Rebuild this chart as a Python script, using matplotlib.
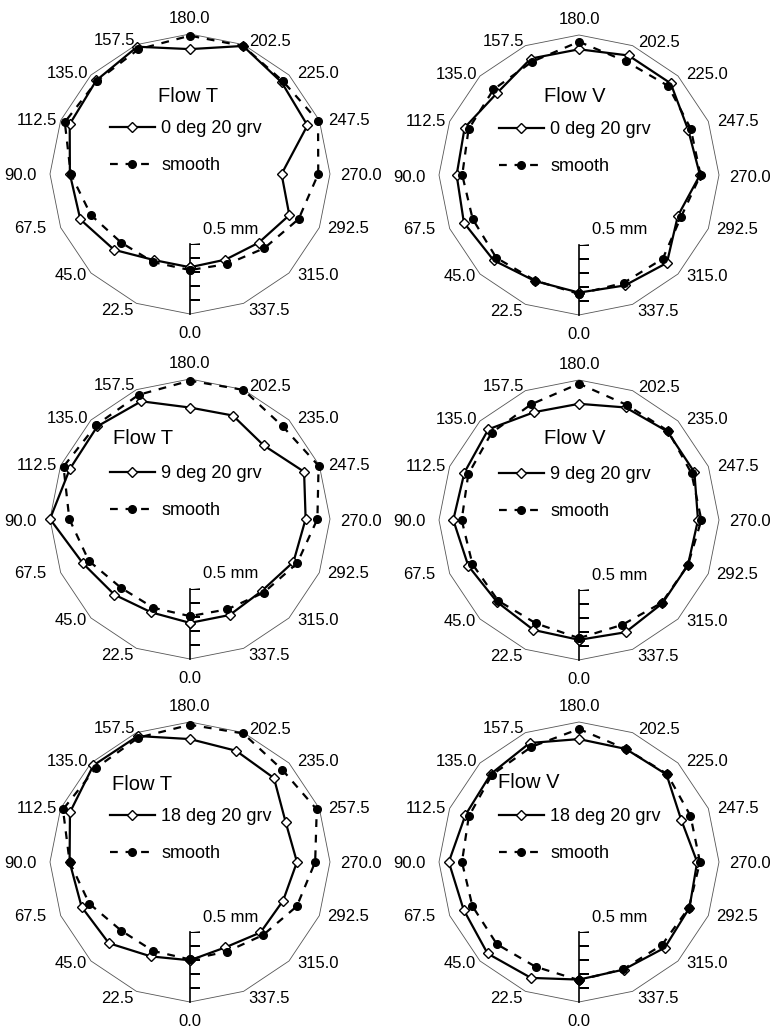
import matplotlib
matplotlib.use("Agg")
import matplotlib.pyplot as plt
import numpy as np

plt.rcParams['font.family'] = ['Liberation Sans', 'DejaVu Sans']

# angle of measurement (deg), 0 at the bottom, clockwise
angles = [0, 22.5, 45, 67.5, 90, 112.5, 135, 157.5, 180, 202.5, 225, 247.5, 270, 292.5, 315, 337.5]

labels_a = ['0.0', '22.5', '45.0', '67.5', '90.0', '112.5', '135.0', '157.5', '180.0',
            '202.5', '225.0', '247.5', '270.0', '292.5', '315.0', '337.5']
labels_b = ['0.0', '22.5', '45.0', '67.5', '90.0', '112.5', '135.0', '157.5', '180.0',
            '202.5', '235.0', '247.5', '270.0', '292.5', '315.0', '337.5']
labels_c = ['0.0', '22.5', '45.0', '67.5', '90.0', '112.5', '135.0', '157.5', '180.0',
            '202.5', '235.0', '257.5', '270.0', '292.5', '315.0', '337.5']

# radial deviation (mm) read on the 0.5 mm scale
t0_grv = [0.166, 0.166, 0.266, 0.348, 0.358, 0.430, 0.446, 0.484, 0.392, 0.490, 0.426, 0.408, 0.154, 0.268, 0.194, 0.162]
t0_smooth = [0.186, 0.182, 0.194, 0.266, 0.352, 0.468, 0.440, 0.464, 0.488, 0.490, 0.438, 0.490, 0.416, 0.340, 0.250, 0.196]
v0_grv = [0.340, 0.320, 0.362, 0.390, 0.374, 0.384, 0.328, 0.400, 0.398, 0.424, 0.426, 0.344, 0.364, 0.264, 0.388, 0.354]
v0_smooth = [0.350, 0.316, 0.336, 0.322, 0.334, 0.354, 0.364, 0.376, 0.452, 0.378, 0.400, 0.364, 0.368, 0.288, 0.346, 0.334]
t9_grv = [0.242, 0.222, 0.264, 0.328, 0.500, 0.430, 0.436, 0.410, 0.296, 0.300, 0.244, 0.382, 0.326, 0.300, 0.226, 0.242]
t9_smooth = [0.194, 0.186, 0.196, 0.282, 0.362, 0.478, 0.448, 0.460, 0.488, 0.498, 0.436, 0.494, 0.410, 0.328, 0.244, 0.198]
v9_grv = [0.356, 0.350, 0.328, 0.356, 0.398, 0.386, 0.416, 0.334, 0.330, 0.370, 0.394, 0.392, 0.350, 0.342, 0.342, 0.368]
v9_smooth = [0.344, 0.300, 0.316, 0.324, 0.338, 0.356, 0.382, 0.394, 0.474, 0.390, 0.400, 0.370, 0.374, 0.342, 0.336, 0.310]
t18_grv = [0.202, 0.230, 0.320, 0.338, 0.360, 0.428, 0.476, 0.474, 0.378, 0.360, 0.348, 0.240, 0.264, 0.220, 0.212, 0.160]
t18_smooth = [0.196, 0.188, 0.194, 0.278, 0.360, 0.482, 0.450, 0.462, 0.480, 0.494, 0.432, 0.480, 0.394, 0.326, 0.238, 0.192]
v18_grv = [0.340, 0.396, 0.424, 0.392, 0.430, 0.378, 0.390, 0.420, 0.378, 0.374, 0.384, 0.290, 0.344, 0.354, 0.366, 0.332]
v18_smooth = [0.344, 0.310, 0.330, 0.324, 0.336, 0.352, 0.380, 0.390, 0.450, 0.374, 0.390, 0.362, 0.364, 0.350, 0.338, 0.328]

W, H = 772, 1028
R = 140

# label offsets from each outer vertex, pixels
lab_off = [(0, -12), (-3, -7), (-4, -3), (-14, -1), (-13, -2), (-4, 0), (-3, 2), (-1, 4),
           (0, 8), (6, 3), (8, 2), (9, 0), (10, -2), (8, -1), (8, -3), (5, -7)]
lab_ha = ['center'] + ['right'] * 7 + ['center'] + ['left'] * 7
lab_va = ['top'] + ['center'] * 7 + ['bottom'] + ['center'] * 7

fig = plt.figure(figsize=(W / 100, H / 100), dpi=100)


def draw_panel(cx, cy, flow, title_off, grv, smooth, grv_name, ticklabels):
    ax = fig.add_axes([(cx - R) / W, 1 - (cy + R) / H, 2 * R / W, 2 * R / H], projection='polar')
    ax.set_theta_zero_location('S')
    ax.set_theta_direction(-1)
    ax.set_ylim(0, 0.5)
    ax.set_rorigin(-0.5)
    ax.set_axis_off()

    th = np.deg2rad(angles + [angles[0]])
    # outer 16-gon frame
    ax.plot(th, [0.5] * len(th), color='#555555', lw=0.6, clip_on=False)

    # 0.5 mm scale along 0 deg
    ax.plot([0, 0], [0, 0.5], color='black', lw=1.2, clip_on=False)
    ax.plot([0] * 5, [0, 0.1, 0.2, 0.3, 0.4], ls='none', marker=1, ms=7.2, mew=1.2, color='black')
    ax.annotate('0.5 mm', xy=(0, 0), xytext=(13, 15), textcoords='offset pixels',
                ha='left', va='center', fontsize=12)

    ax.plot(th, grv + [grv[0]], color='black', lw=1.6, marker='D', ms=4.8,
            mfc='white', mec='black', mew=1.0, label=grv_name, clip_on=False)
    ax.plot(th, smooth + [smooth[0]], color='black', lw=1.6, ls=(0, (3.5, 3.5)),
            marker='o', ms=5.5, label='smooth', clip_on=False)

    for i, a in enumerate(angles):
        ax.annotate(ticklabels[i], xy=(np.deg2rad(a), 0.5), xytext=lab_off[i],
                    textcoords='offset pixels', ha=lab_ha[i], va=lab_va[i],
                    fontsize=12, annotation_clip=False)

    ax.annotate(flow, xy=(0.5, 0.5), xycoords='axes fraction', xytext=title_off,
                textcoords='offset pixels', ha='center', va='center', fontsize=14.5)
    ax.legend(loc='upper left', bbox_to_anchor=(0.214, 0.693), frameon=False,
              fontsize=13, handlelength=2.5, handletextpad=0.35, labelspacing=1.1,
              borderpad=0, borderaxespad=0)


draw_panel(190, 174, 'Flow T', (-2, 77), t0_grv, t0_smooth, '0 deg 20 grv', labels_a)
draw_panel(579, 175, 'Flow V', (-4, 79), v0_grv, v0_smooth, '0 deg 20 grv', labels_a)
draw_panel(190, 519, 'Flow T', (-47, 81), t9_grv, t9_smooth, '9 deg 20 grv', labels_b)
draw_panel(579, 520, 'Flow V', (-4, 82), v9_grv, v9_smooth, '9 deg 20 grv', labels_b)
draw_panel(190, 862, 'Flow T', (-48, 78), t18_grv, t18_smooth, '18 deg 20 grv', labels_c)
draw_panel(579, 862, 'Flow V', (-50, 80), v18_grv, v18_smooth, '18 deg 20 grv', labels_a)

fig.savefig('out.png', dpi=100, facecolor='white')
